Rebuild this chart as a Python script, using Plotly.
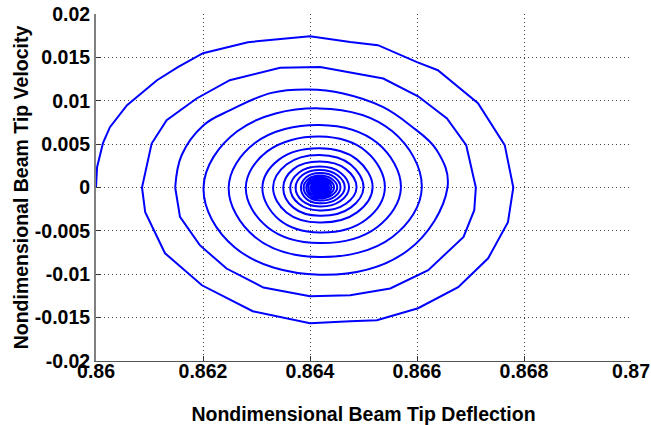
import plotly.graph_objects as go

# Phase-portrait, one list per revolution (clockwise, starting at the left crossing)
outer_deflection = [
    [0.86000, 0.86002, 0.86013, 0.86026, 0.86058, 0.86114, 0.86153, 0.86200, 0.86284, 0.86400,
     0.86475, 0.86527, 0.86600, 0.86639, 0.86714, 0.86764, 0.86780, 0.86770, 0.86733, 0.86677,
     0.86602, 0.86525, 0.86475, 0.86400, 0.86293, 0.86198, 0.86129, 0.86092, 0.86086],
    [0.86104, 0.86132, 0.86188, 0.86250, 0.86344, 0.86419, 0.86537, 0.86602, 0.86656, 0.86692,
     0.86710, 0.86707, 0.86687, 0.86621, 0.86550, 0.86475, 0.86400, 0.86313, 0.86244, 0.86194,
     0.86157, 0.86148],
]
outer_velocity = [
    [0.0, 0.00234, 0.00511, 0.00695, 0.00949, 0.01237, 0.01387, 0.01548, 0.01675, 0.01744,
     0.01678, 0.01641, 0.01445, 0.01352, 0.00972, 0.00488, 0.0, -0.00400, -0.00816, -0.01150,
     -0.01392, -0.01530, -0.01541, -0.01564, -0.01426, -0.01127, -0.00758, -0.00286, 0.0],
    [0.00507, 0.00776, 0.01026, 0.01237, 0.01379, 0.01390, 0.01256, 0.01052, 0.00795, 0.00488,
     0.0, -0.00262, -0.00570, -0.00953, -0.01164, -0.01242, -0.01253, -0.01153, -0.00934, -0.00665,
     -0.00339, 0.0],
]

inner_deflection = [
    [0.86148, 0.86160, 0.86201, 0.86251, 0.86328, 0.86397, 0.86462, 0.86536, 0.86587, 0.86637,
     0.86657, 0.86582, 0.86418, 0.86259, 0.86201],
    [0.86264, 0.86418, 0.86554, 0.86609, 0.86554, 0.86418, 0.86297, 0.86248],
    [0.86297, 0.86418, 0.86526, 0.86570, 0.86526, 0.86418, 0.86320, 0.86280],
    [0.86320, 0.86418, 0.86505, 0.86540, 0.86505, 0.86418, 0.86342, 0.86311],
    [0.86342, 0.86418, 0.86488, 0.86517, 0.86488, 0.86418, 0.86356, 0.86331],
    [0.86356, 0.86418, 0.86476, 0.86500, 0.86476, 0.86418, 0.86369, 0.86350],
    [0.86369, 0.86418, 0.86467, 0.86487, 0.86467, 0.86418, 0.86379, 0.86363],
    [0.86379, 0.86418, 0.86457, 0.86473, 0.86457, 0.86418, 0.86386, 0.86373],
    [0.86386, 0.86418, 0.86451, 0.86465, 0.86451, 0.86418, 0.86393, 0.86383],
    [0.86393, 0.86418, 0.86446, 0.86457, 0.86446, 0.86418, 0.86397, 0.86388],
    [0.86397, 0.86418, 0.86441, 0.86451, 0.86441, 0.86418, 0.86400, 0.86393],
    [0.86400, 0.86418, 0.86437, 0.86445, 0.86437, 0.86418, 0.86403, 0.86397],
    [0.86403, 0.86418, 0.86434, 0.86440, 0.86434, 0.86418, 0.86406, 0.86401],
    [0.86406, 0.86418, 0.86431, 0.86436, 0.86431, 0.86418, 0.86408, 0.86404],
    [0.86408, 0.86418, 0.86429, 0.86433, 0.86429, 0.86418, 0.86409, 0.86406],
    [0.86409, 0.86418, 0.86427, 0.86431, 0.86427, 0.86418, 0.86411, 0.86408],
    [0.86411, 0.86418, 0.86425, 0.86428, 0.86425, 0.86418, 0.86412, 0.86410],
    [0.86412, 0.86418, 0.86424, 0.86427, 0.86424, 0.86418, 0.86413, 0.86411],
    [0.86413, 0.86418, 0.86423, 0.86425, 0.86423, 0.86418, 0.86414, 0.86412],
    [0.86414, 0.86418, 0.86422, 0.86424, 0.86422, 0.86418, 0.86415, 0.86413],
    [0.86415, 0.86418, 0.86421, 0.86423, 0.86421, 0.86418, 0.86415, 0.86414],
    [0.86415, 0.86418, 0.86421, 0.86422, 0.86421, 0.86418, 0.86416, 0.86415],
    [0.86416, 0.86418, 0.86420, 0.86421, 0.86420, 0.86418, 0.86416, 0.86415],
    [0.86416, 0.86418, 0.86420, 0.86420, 0.86420, 0.86418, 0.86417, 0.86416],
    [0.86417, 0.86418, 0.86419, 0.86420, 0.86419, 0.86418, 0.86417, 0.86417],
    [0.86417, 0.86418, 0.86419, 0.86419, 0.86419, 0.86418, 0.86417, 0.86418],
]
inner_velocity = [
    [0.0, 0.00372, 0.00718, 0.00891, 0.01091, 0.01130, 0.01084, 0.00929, 0.00718, 0.00430,
     0.0, -0.00729, -0.01005, -0.00688, 0.0],
    [0.00648, 0.00912, 0.00648, 0.0, -0.00570, -0.00802, -0.00570, 0.0],
    [0.00512, 0.00721, 0.00512, 0.0, -0.00455, -0.00641, -0.00455, 0.0],
    [0.00416, 0.00587, 0.00416, 0.0, -0.00369, -0.00519, -0.00369, 0.0],
    [0.00321, 0.00452, 0.00321, 0.0, -0.00287, -0.00404, -0.00287, 0.0],
    [0.00266, 0.00376, 0.00266, 0.0, -0.00232, -0.00326, -0.00232, 0.0],
    [0.00212, 0.00299, 0.00212, 0.0, -0.00188, -0.00265, -0.00188, 0.0],
    [0.00171, 0.00241, 0.00171, 0.0, -0.00156, -0.00219, -0.00156, 0.0],
    [0.00144, 0.00203, 0.00144, 0.0, -0.00129, -0.00182, -0.00129, 0.0],
    [0.00119, 0.00167, 0.00119, 0.0, -0.00106, -0.00150, -0.00106, 0.0],
    [0.00098, 0.00138, 0.00098, 0.0, -0.00088, -0.00125, -0.00088, 0.0],
    [0.00082, 0.00115, 0.00082, 0.0, -0.00074, -0.00104, -0.00074, 0.0],
    [0.00068, 0.00096, 0.00068, 0.0, -0.00061, -0.00087, -0.00061, 0.0],
    [0.00057, 0.00080, 0.00057, 0.0, -0.00051, -0.00072, -0.00051, 0.0],
    [0.00047, 0.00066, 0.00047, 0.0, -0.00043, -0.00060, -0.00043, 0.0],
    [0.00039, 0.00054, 0.00039, 0.0, -0.00035, -0.00050, -0.00035, 0.0],
    [0.00032, 0.00045, 0.00032, 0.0, -0.00029, -0.00040, -0.00029, 0.0],
    [0.00026, 0.00037, 0.00026, 0.0, -0.00024, -0.00033, -0.00024, 0.0],
    [0.00022, 0.00031, 0.00022, 0.0, -0.00020, -0.00028, -0.00020, 0.0],
    [0.00018, 0.00026, 0.00018, 0.0, -0.00017, -0.00024, -0.00017, 0.0],
    [0.00015, 0.00022, 0.00015, 0.0, -0.00014, -0.00020, -0.00014, 0.0],
    [0.00013, 0.00018, 0.00013, 0.0, -0.00012, -0.00017, -0.00012, 0.0],
    [0.00011, 0.00015, 0.00011, 0.0, -0.00010, -0.00014, -0.00010, 0.0],
    [0.00009, 0.00013, 0.00009, 0.0, -0.00008, -0.00012, -0.00008, 0.0],
    [0.00007, 0.00010, 0.00007, 0.0, -0.00006, -0.00009, -0.00006, 0.0],
    [0.00005, 0.00007, 0.00005, 0.0, -0.00004, -0.00006, -0.00004, 0.0],
]

x_ticks = [0.86, 0.862, 0.864, 0.866, 0.868, 0.87]
x_tick_labels = ["0.86", "0.862", "0.864", "0.866", "0.868", "0.87"]
y_ticks = [-0.02, -0.015, -0.01, -0.005, 0, 0.005, 0.01, 0.015, 0.02]
y_tick_labels = ["-0.02", "-0.015", "-0.01", "-0.005", "0", "0.005", "0.01", "0.015", "0.02"]

FONT = "Liberation Sans, Arial, Helvetica, sans-serif"
BLUE = "#0000ff"

fig = go.Figure()
fig.add_trace(go.Scatter(
    x=[v for loop in outer_deflection for v in loop],
    y=[v for loop in outer_velocity for v in loop],
    mode="lines", line=dict(color=BLUE, width=2),
    hoverinfo="skip", showlegend=False,
))
fig.add_trace(go.Scatter(
    x=[v for loop in inner_deflection for v in loop],
    y=[v for loop in inner_velocity for v in loop],
    mode="lines", line=dict(color=BLUE, width=2, shape="spline", smoothing=1.1),
    hoverinfo="skip", showlegend=False,
))

axis_common = dict(
    showgrid=True, gridcolor="#444444", gridwidth=1, griddash="1px,3px",
    zeroline=False, ticks="inside", ticklen=5, tickwidth=1, tickcolor="#333333",
    tickfont=dict(family=FONT, size=19.5, color="black", weight="bold"),
    showline=True, mirror=False, automargin=False,
)

fig.update_xaxes(
    range=[0.86, 0.87], tickmode="array", tickvals=x_ticks, ticktext=x_tick_labels,
    linecolor="#555555", linewidth=1, ticklabelstandoff=-7,
    title=dict(text="Nondimensional Beam Tip Deflection", standoff=25,
               font=dict(family=FONT, size=19.5, color="black", weight="bold")),
    **axis_common,
)
fig.update_yaxes(
    range=[-0.02, 0.02], tickmode="array", tickvals=y_ticks, ticktext=y_tick_labels,
    linecolor="#808080", linewidth=2,
    title=dict(text="Nondimensional Beam Tip Velocity", standoff=1,
               font=dict(family=FONT, size=19.5, color="black", weight="bold")),
    **axis_common,
)

fig.update_layout(
    width=651, height=425,
    margin=dict(l=96, r=20, t=14, b=64),
    paper_bgcolor="white", plot_bgcolor="white",
)

fig.write_html("out.html")
